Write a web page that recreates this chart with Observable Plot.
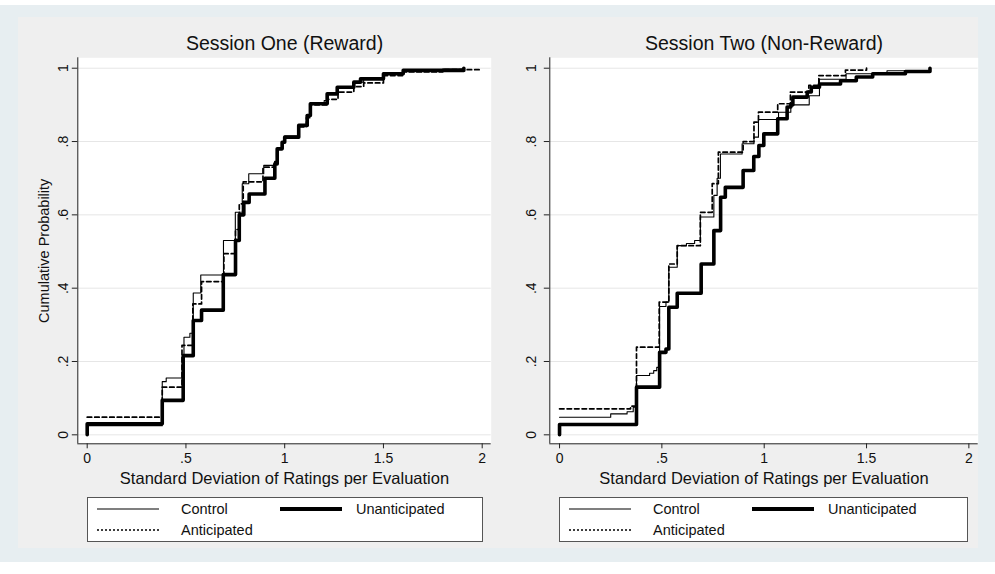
<!DOCTYPE html>
<html>
<head>
<meta charset="utf-8">
<script src="https://cdn.jsdelivr.net/npm/d3@7"></script>
<script src="https://cdn.jsdelivr.net/npm/@observablehq/plot@0.6"></script>
<style>
  html, body { margin: 0; padding: 0; background: #ffffff; }
  body { width: 995px; height: 574px; position: relative; overflow: hidden; font-family: "Liberation Sans", Arial, sans-serif; }
  #outer { position: absolute; left: 0; top: 5px; width: 995px; height: 557px; background: #e7eef1; }
  #inner { position: absolute; left: 18px; top: 17px; width: 960px; height: 531px; background: #efefef; }
  .panel { position: absolute; }
  .legend { position: absolute; background: #ffffff; border: 1px solid #555; box-sizing: border-box; }
  .legend .item { position: absolute; font-size: 14.5px; color: #111; line-height: 16px; }
  .legend svg { position: absolute; overflow: visible; }
</style>
</head>
<body>
<div id="outer"></div>
<div id="inner"></div>
<div id="left" class="panel" style="left:18px; top:17px;"></div>
<div id="right" class="panel" style="left:498px; top:17px;"></div>
<div id="legLeft" class="legend" style="left:87px; top:497px; width:396px; height:45px;"></div>
<div id="legRight" class="legend" style="left:559px; top:497px; width:409px; height:45px;"></div>
<script>
// ---------- data ----------
const panelTitles = ["Session One (Reward)", "Session Two (Non-Reward)"];
const xAxisTitle = "Standard Deviation of Ratings per Evaluation";
const yAxisTitle = "Cumulative Probability";
const seriesNames = ["Control", "Unanticipated", "Anticipated"];
const xTicks = [0, 0.5, 1, 1.5, 2];
const xTickLabels = ["0", ".5", "1", "1.5", "2"];
const yTicks = [0, 0.2, 0.4, 0.6, 0.8, 1];
const yTickLabels = ["0", ".2", ".4", ".6", ".8", "1"];

// Session One (Reward): [sd, cumulative probability] step points
const s1Control = [[0,0.025],[0.38,0.145],[0.40,0.155],[0.49,0.266],[0.52,0.277],[0.537,0.387],[0.575,0.436],[0.69,0.53],[0.75,0.607],[0.785,0.685],[0.818,0.712],[0.894,0.735],[0.95,0.742],[0.96,0.78],[0.99,0.80],[1.0,0.815],[1.07,0.845],[1.11,0.872],[1.13,0.905],[1.2,0.912],[1.22,0.93],[1.27,0.945],[1.35,0.962],[1.4,0.972],[1.5,0.985],[1.6,0.993],[1.8,0.998],[1.9,1.0]];
const s1Anticipated = [[0,0.048],[0.38,0.13],[0.48,0.244],[0.535,0.357],[0.579,0.418],[0.692,0.494],[0.751,0.56],[0.77,0.63],[0.79,0.69],[0.89,0.73],[0.95,0.745],[0.96,0.78],[0.99,0.80],[1.0,0.81],[1.07,0.84],[1.11,0.865],[1.13,0.9],[1.22,0.915],[1.27,0.935],[1.35,0.95],[1.4,0.96],[1.5,0.98],[1.6,0.99],[1.8,0.996],[1.99,1.0]];
const s1Unanticipated = [[0,0],[0,0.03],[0.38,0.094],[0.486,0.216],[0.537,0.312],[0.579,0.34],[0.689,0.437],[0.751,0.53],[0.77,0.6],[0.793,0.634],[0.82,0.657],[0.9,0.70],[0.95,0.739],[0.962,0.78],[0.987,0.798],[1.0,0.812],[1.071,0.844],[1.114,0.871],[1.13,0.903],[1.215,0.93],[1.266,0.948],[1.35,0.962],[1.384,0.971],[1.5,0.985],[1.6,0.994],[1.907,1.0]];

// Session Two (Non-Reward)
const s2Control = [[0,0.048],[0.25,0.057],[0.33,0.063],[0.36,0.075],[0.376,0.162],[0.44,0.168],[0.46,0.175],[0.475,0.184],[0.489,0.35],[0.52,0.362],[0.534,0.457],[0.575,0.516],[0.62,0.522],[0.66,0.53],[0.688,0.594],[0.754,0.653],[0.77,0.70],[0.786,0.766],[0.892,0.794],[0.95,0.812],[0.972,0.86],[1.07,0.88],[1.13,0.9],[1.22,0.925],[1.27,0.97],[1.4,0.985],[1.6,0.993],[1.81,1.0]];
const s2Anticipated = [[0,0.071],[0.347,0.078],[0.376,0.239],[0.487,0.362],[0.534,0.466],[0.575,0.516],[0.688,0.607],[0.746,0.685],[0.776,0.771],[0.897,0.80],[0.95,0.853],[0.972,0.88],[1.066,0.903],[1.128,0.935],[1.218,0.953],[1.267,0.98],[1.397,0.995],[1.5,1.0]];
const s2Unanticipated = [[0,0],[0,0.028],[0.376,0.13],[0.489,0.225],[0.52,0.234],[0.534,0.348],[0.575,0.386],[0.692,0.466],[0.754,0.557],[0.787,0.648],[0.81,0.675],[0.897,0.721],[0.949,0.759],[0.974,0.789],[0.998,0.821],[1.066,0.862],[1.112,0.894],[1.13,0.9],[1.14,0.921],[1.21,0.935],[1.23,0.948],[1.27,0.957],[1.373,0.966],[1.45,0.976],[1.53,0.985],[1.69,0.991],[1.81,1.0]];

// ---------- drawing ----------
const xDomain = [-0.0476, 2.0456];
const yDomain = [-0.0245, 1.0284];
const xLab = new Map(xTicks.map((d, i) => [d, xTickLabels[i]]));
const yLab = new Map(yTicks.map((d, i) => [d, yTickLabels[i]]));
const FONT = "'Liberation Sans', Arial, Helvetica, sans-serif";
const AX = "#222";

function panel({title, control, anticipated, unanticipated, width, marginLeft, yTitle, yLabelDx}) {
  const marks = [
    Plot.frame({fill: "#ffffff", stroke: null}),
    Plot.ruleY(yTicks, {stroke: "#e6e6e6", strokeWidth: 1}),
    Plot.line(control, {x: d => d[0], y: d => d[1], curve: "step-after", stroke: "#000", strokeWidth: 1.1}),
    Plot.line(anticipated, {x: d => d[0], y: d => d[1], curve: "step-after", stroke: "#000", strokeWidth: 1.7, strokeDasharray: "4.5,3"}),
    Plot.line(unanticipated, {x: d => d[0], y: d => d[1], curve: "step-after", stroke: "#000", strokeWidth: 3.6}),
    Plot.ruleX([xDomain[0]], {stroke: AX, strokeWidth: 1}),
    Plot.ruleY([yDomain[0]], {stroke: AX, strokeWidth: 1}),
    Plot.axisX({ticks: xTicks, tickSize: 5, tickPadding: 4, tickFormat: d => xLab.get(d), fontSize: 14, label: null, stroke: AX, color: "#111"}),
    Plot.axisY({ticks: yTicks, tickSize: 5.5, tickFormat: () => "", label: null, stroke: AX}),
    Plot.text(yTicks, {y: d => d, text: d => yLab.get(d), frameAnchor: "left", textAnchor: "middle", dx: yLabelDx, rotate: -90, fontSize: 14, lineAnchor: "middle", fill: "#111"}),
    Plot.text([title], {text: d => d, frameAnchor: "top", dy: -14, fontSize: 19.5, lineAnchor: "middle", fill: "#111"}),
    Plot.text([xAxisTitle], {text: d => d, frameAnchor: "bottom", dy: 35, fontSize: 16.5, lineAnchor: "middle", fill: "#111"})
  ];
  if (yTitle) marks.push(Plot.text([yTitle], {text: d => d, frameAnchor: "left", textAnchor: "middle", dx: -33, rotate: -90, fontSize: 14.5, lineAnchor: "middle", fill: "#111"}));
  return Plot.plot({
    width, height: 473,
    marginLeft, marginRight: 7.3, marginTop: 40.3, marginBottom: 46.7,
    x: {domain: xDomain},
    y: {domain: yDomain},
    style: {fontFamily: FONT, background: "transparent", overflow: "visible"},
    marks
  });
}

document.getElementById("left").append(panel({
  title: panelTitles[0], control: s1Control, anticipated: s1Anticipated, unanticipated: s1Unanticipated,
  width: 480, marginLeft: 59.3, yTitle: yAxisTitle, yLabelDx: -14
}));
document.getElementById("right").append(panel({
  title: panelTitles[1], control: s2Control, anticipated: s2Anticipated, unanticipated: s2Unanticipated,
  width: 487, marginLeft: 51.3, yTitle: null, yLabelDx: -18
}));

// ---------- legends ----------
const legendStyles = {
  "Control": {w: 1.1, dash: null},
  "Unanticipated": {w: 4, dash: null},
  "Anticipated": {w: 1.6, dash: "2,2"}
};
function legend(el, layout) {
  layout.forEach(({name, lx, ly, tx}) => {
    const st = legendStyles[name];
    const ns = "http://www.w3.org/2000/svg";
    const svg = document.createElementNS(ns, "svg");
    svg.setAttribute("width", 70); svg.setAttribute("height", 10);
    svg.style.left = lx + "px"; svg.style.top = (ly - 5) + "px";
    const line = document.createElementNS(ns, "line");
    line.setAttribute("x1", 0); line.setAttribute("x2", 62);
    line.setAttribute("y1", 5); line.setAttribute("y2", 5);
    line.setAttribute("stroke", "#000"); line.setAttribute("stroke-width", st.w);
    if (st.dash) line.setAttribute("stroke-dasharray", st.dash);
    svg.append(line);
    el.append(svg);
    const t = document.createElement("div");
    t.className = "item"; t.textContent = name;
    t.style.left = tx + "px"; t.style.top = (ly - 8) + "px";
    el.append(t);
  });
}
const legendLayout = [
  {name: seriesNames[0], lx: 9, ly: 11, tx: 93},
  {name: seriesNames[1], lx: 192, ly: 11, tx: 268},
  {name: seriesNames[2], lx: 9, ly: 32, tx: 93}
];
legend(document.getElementById("legLeft"), legendLayout);
legend(document.getElementById("legRight"), legendLayout);
</script>
</body>
</html>
